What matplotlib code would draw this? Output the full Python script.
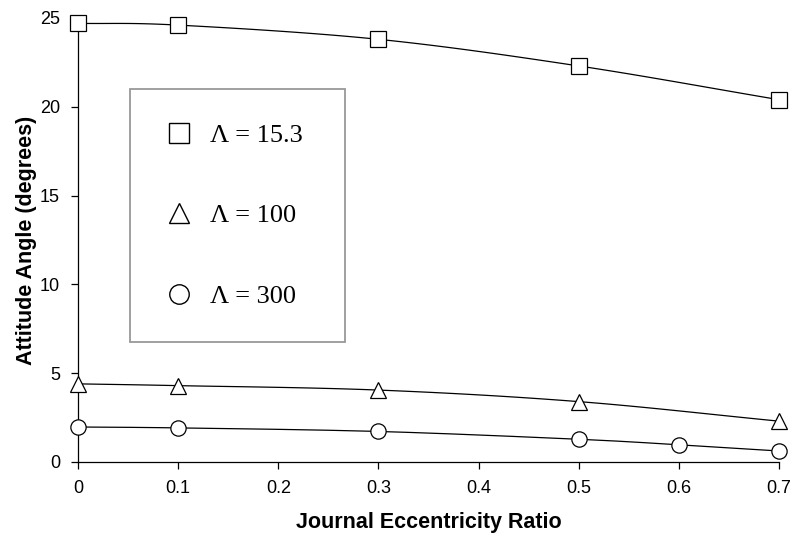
import numpy as np
import matplotlib
matplotlib.use('Agg')
import matplotlib.pyplot as plt

# data
ecc_sq  = [0.0, 0.1, 0.3, 0.5, 0.7]
ang_sq  = [24.7, 24.6, 23.8, 22.3, 20.4]
ecc_tri = [0.0, 0.1, 0.3, 0.5, 0.7]
ang_tri = [4.4, 4.3, 4.05, 3.4, 2.3]
ecc_cir = [0.0, 0.1, 0.3, 0.5, 0.6, 0.7]
ang_cir = [1.97, 1.92, 1.72, 1.28, 0.97, 0.62]
labels  = ['Λ = 15.3', 'Λ = 100', 'Λ = 300']


def smooth(x, y, n=30):
    # Catmull-Rom style smoothing, like a spreadsheet "smoothed line"
    x = np.asarray(x, float)
    y = np.asarray(y, float)
    px = np.concatenate([[2 * x[0] - x[1]], x, [2 * x[-1] - x[-2]]])
    py = np.concatenate([[2 * y[0] - y[1]], y, [2 * y[-1] - y[-2]]])
    xs, ys = [], []
    t = np.linspace(0, 1, n)
    for i in range(1, len(px) - 2):
        for p, out in ((px, xs), (py, ys)):
            p0, p1, p2, p3 = p[i - 1], p[i], p[i + 1], p[i + 2]
            m1 = (p2 - p0) / 6.0
            m2 = (p3 - p1) / 6.0
            b = ((1 - t) ** 3 * p1 + 3 * (1 - t) ** 2 * t * (p1 + m1)
                 + 3 * (1 - t) * t ** 2 * (p2 - m2) + t ** 3 * p2)
            out.extend(b)
    return np.array(xs), np.array(ys)


plt.rcParams['font.family'] = ['Liberation Sans', 'DejaVu Sans']

fig = plt.figure(figsize=(7.93, 5.40), dpi=100)
ax = fig.add_axes([78 / 793, 78 / 540, 701 / 793, 444 / 540])

series = [(ecc_sq, ang_sq, 's'), (ecc_tri, ang_tri, '^'), (ecc_cir, ang_cir, 'o')]
handles = []
for (xv, yv, mk), lab in zip(series, labels):
    sx, sy = smooth(xv, yv)
    ax.plot(sx, sy, color='black', lw=0.9, clip_on=False, zorder=2)
    ax.plot(xv, yv, linestyle='none', marker=mk, markersize=11,
            markerfacecolor='white', markeredgecolor='black',
            markeredgewidth=0.9, clip_on=False, zorder=3)
    h, = ax.plot([], [], linestyle='none', marker=mk, markersize=14,
                 markerfacecolor='white', markeredgecolor='black',
                 markeredgewidth=1.0, label=lab)
    handles.append(h)

ax.set_xlim(0, 0.7)
ax.set_ylim(0, 25)
ax.set_xticks(np.arange(0, 0.71, 0.1))
ax.set_xticklabels(['0', '0.1', '0.2', '0.3', '0.4', '0.5', '0.6', '0.7'])
ax.set_yticks([0, 5, 10, 15, 20, 25])
ax.spines['top'].set_visible(False)
ax.spines['right'].set_visible(False)
for s in ('left', 'bottom'):
    ax.spines[s].set_linewidth(0.9)
ax.tick_params(direction='out', length=5, width=0.9, labelsize=13, pad=8)

ax.set_xlabel('Journal Eccentricity Ratio', fontsize=15.5, fontweight='bold',
              labelpad=11)
ax.set_ylabel('Attitude Angle (degrees)', fontsize=15.5, fontweight='bold',
              labelpad=2)

leg = ax.legend(handles=handles, loc='upper left',
                bbox_to_anchor=(0.074, 0.277, 0.307, 0.563), mode='expand',
                prop={'family': 'Liberation Serif', 'size': 19},
                frameon=True, fancybox=False, framealpha=1,
                edgecolor='#999999', borderpad=1.3, labelspacing=2.16,
                handlelength=1.09, handletextpad=0.63, borderaxespad=0)
leg.get_frame().set_linewidth(1.3)

fig.savefig('out.png', dpi=100, facecolor='white')
